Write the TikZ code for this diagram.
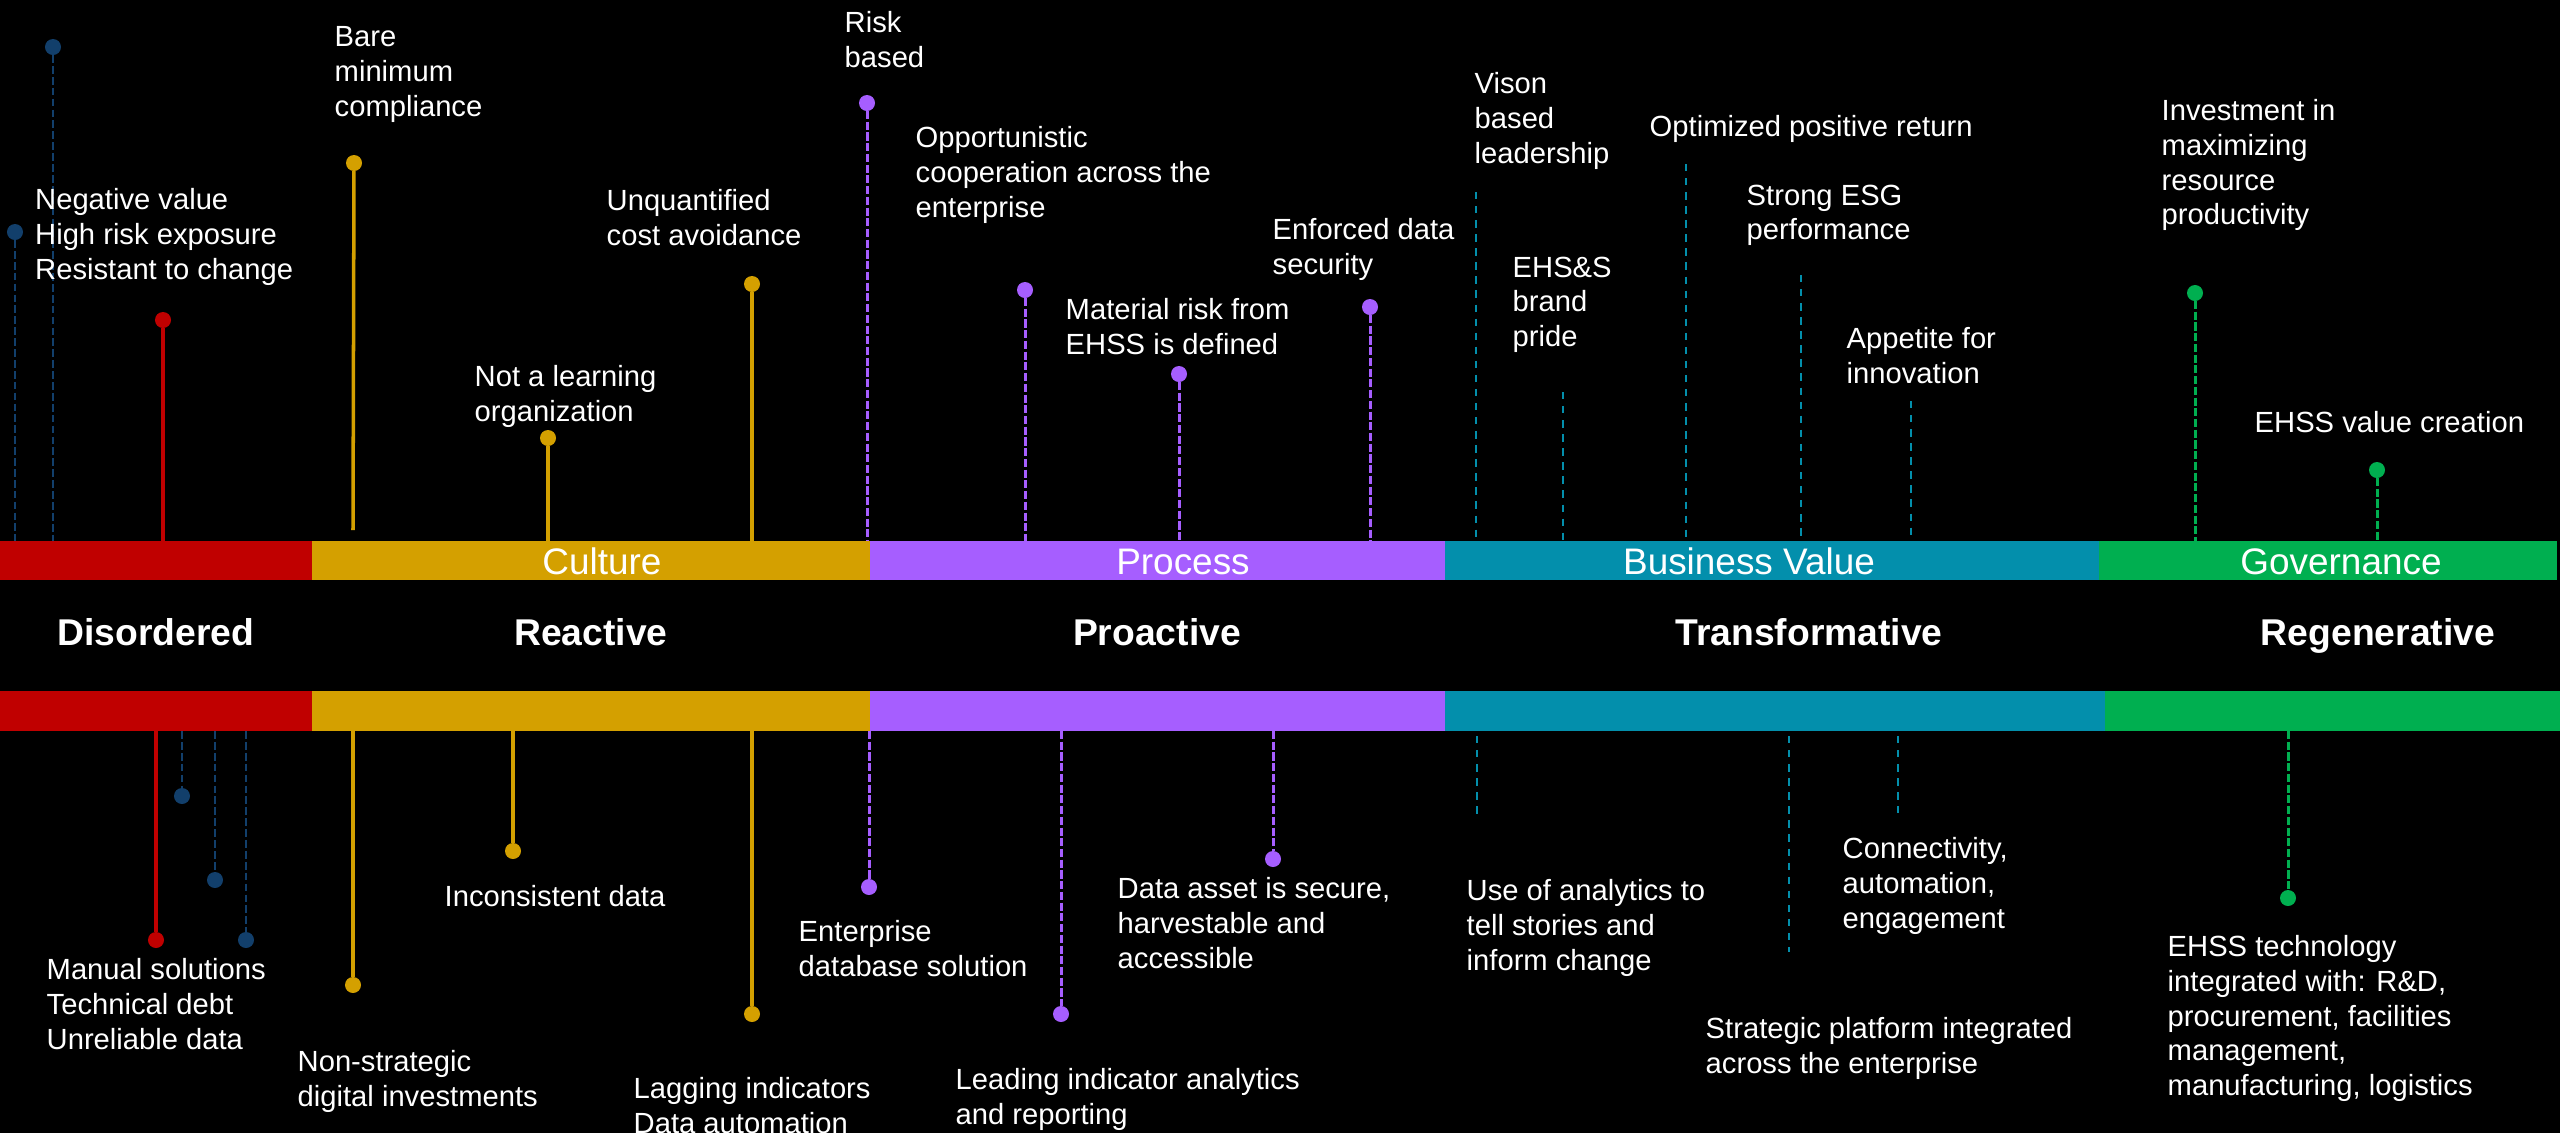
\documentclass[tikz,border=0pt]{standalone}
\usepackage{fontspec}
\setmainfont{Liberation Sans}
\usetikzlibrary{fit}
\definecolor{cred}{HTML}{C00000}
\definecolor{cgold}{HTML}{D4A000}
\definecolor{cpurple}{HTML}{A65EFF}
\definecolor{cteal}{HTML}{038FAC}
\definecolor{cgreen}{HTML}{00AF50}
\definecolor{cnavy}{HTML}{123F6B}
\begin{document}
\begin{tikzpicture}[x=0.01cm,y=-0.01cm,
 bar/.style={inner sep=0pt, outer sep=0pt, draw=none},
 dot/.style={circle, inner sep=0pt, minimum size=0.16cm, outer sep=0pt},
 solidpin/.style={line width=1pt},
 dashpin/.style={line width=0.85pt, dash pattern=on 2.3pt off 0.75pt},
 navypin/.style={line width=0.65pt, dash pattern=on 2.2pt off 0.9pt, cnavy},
 tealpin/.style={line width=0.6pt, dash pattern=on 2.1pt off 1.9pt, cteal},
 lbl/.style={text=white, anchor=north west, inner sep=0pt, align=left, font=\fontsize{8.3}{9.85}\selectfont},
 barlbl/.style={text=white, inner sep=0pt, anchor=base, font=\fontsize{10.5}{12}\selectfont},
 stage/.style={text=white, inner sep=0pt, anchor=base, font=\bfseries\fontsize{10.6}{12}\selectfont}]
\useasboundingbox (0,0) rectangle (2560,1133);
\fill[black] (0,0) rectangle (2560,1133);

% ---------- bars ----------
\node[bar, fill=cred,    fit={(0,541) (312,580)}]     (bt1) {};
\node[bar, fill=cgold,   fit={(312,541) (870,580)}]   (bt2) {};
\node[bar, fill=cpurple, fit={(870,541) (1445,580)}]  (bt3) {};
\node[bar, fill=cteal,   fit={(1445,541) (2099,580)}] (bt4) {};
\node[bar, fill=cgreen,  fit={(2099,541) (2557,580)}] (bt5) {};

\node[bar, fill=cred,    fit={(0,691) (312,731)}]     (bb1) {};
\node[bar, fill=cgold,   fit={(312,691) (870,731)}]   (bb2) {};
\node[bar, fill=cpurple, fit={(870,691) (1445,731)}]  (bb3) {};
\node[bar, fill=cteal,   fit={(1445,691) (2105,731)}] (bb4) {};
\node[bar, fill=cgreen,  fit={(2105,691) (2560,731)}] (bb5) {};

\node[barlbl] (lc) at (602,574) {Culture};
\node[barlbl] (lp) at (1183,574) {Process};
\node[barlbl] (lb) at (1749,574) {Business Value};
\node[barlbl] (lg) at (2341,574) {Governance};

\node[stage] (s1) at (156,645) {Disordered};
\node[stage] (s2) at (591,645) {Reactive};
\node[stage] (s3) at (1157,645) {Proactive};
\node[stage] (s4) at (1809,645) {Transformative};
\node[stage] (s5) at (2378,645) {Regenerative};

% ---------- top pins ----------
\node[dot, fill=cnavy]   (tn1) at (53,47) {};
\node[dot, fill=cnavy]   (tn2) at (15,232) {};
\node[dot, fill=cred]    (tr1) at (163,320) {};
\node[dot, fill=cgold]   (tg1) at (354,163) {};
\node[dot, fill=cgold]   (tg2) at (548,438) {};
\node[dot, fill=cgold]   (tg3) at (752,284) {};
\node[dot, fill=cpurple] (tp1) at (867,103) {};
\node[dot, fill=cpurple] (tp2) at (1025,290) {};
\node[dot, fill=cpurple] (tp3) at (1179,374) {};
\node[dot, fill=cpurple] (tp4) at (1370,307) {};
\coordinate (tt1) at (1476,192);
\coordinate (tt2) at (1563,392);
\coordinate (tt3) at (1686,164);
\coordinate (tt4) at (1801,275);
\coordinate (tt5) at (1911,401);
\node[dot, fill=cgreen]  (te1) at (2195,293) {};
\node[dot, fill=cgreen]  (te2) at (2377,470) {};
\coordinate (tg1e) at (353,530);

\draw[navypin] (tn1) -- (tn1 |- bt1.north);
\draw[navypin] (tn2) -- (tn2 |- bt1.north);
\draw[solidpin, cred] (tr1) -- (tr1 |- bt1.north);
\draw[solidpin, cgold] (tg1) -- (tg1e);
\draw[solidpin, cgold] (tg2) -- (tg2 |- bt2.north);
\draw[solidpin, cgold] (tg3) -- (tg3 |- bt2.north);
\draw[dashpin, cpurple] (tp1) -- (tp1 |- bt3.north);
\draw[dashpin, cpurple] (tp2) -- (tp2 |- bt3.north);
\draw[dashpin, cpurple] (tp3) -- (tp3 |- bt3.north);
\draw[dashpin, cpurple] (tp4) -- (tp4 |- bt3.north);
\draw[tealpin] (tt1) -- (tt1 |- bt4.north);
\draw[tealpin] (tt2) -- (tt2 |- bt4.north);
\draw[tealpin] (tt3) -- (tt3 |- bt4.north);
\draw[tealpin] (tt4) -- (tt4 |- bt4.north);
\draw[tealpin] (tt5) -- (tt5 |- bt4.north);
\draw[dashpin, cgreen] (te1) -- (te1 |- bt5.north);
\draw[dashpin, cgreen] (te2) -- (te2 |- bt5.north);

% ---------- bottom pins ----------
\node[dot, fill=cred]    (br1) at (156,940) {};
\node[dot, fill=cnavy]   (bn1) at (182,796) {};
\node[dot, fill=cnavy]   (bn2) at (215,880) {};
\node[dot, fill=cnavy]   (bn3) at (246,940) {};
\node[dot, fill=cgold]   (bg1) at (353,985) {};
\node[dot, fill=cgold]   (bg2) at (513,851) {};
\node[dot, fill=cgold]   (bg3) at (752,1014) {};
\node[dot, fill=cpurple] (bp1) at (869,887) {};
\node[dot, fill=cpurple] (bp2) at (1061,1014) {};
\node[dot, fill=cpurple] (bp3) at (1273,859) {};
\coordinate (bt1a) at (1477,736); \coordinate (bt1b) at (1477,814);
\coordinate (bt2a) at (1789,736); \coordinate (bt2b) at (1789,952);
\coordinate (bt3a) at (1898,736); \coordinate (bt3b) at (1898,813);
\node[dot, fill=cgreen]  (be1) at (2288,898) {};

\draw[solidpin, cred] (br1 |- bb1.south) -- (br1);
\draw[navypin] (bn1 |- bb1.south) -- (bn1);
\draw[navypin] (bn2 |- bb1.south) -- (bn2);
\draw[navypin] (bn3 |- bb1.south) -- (bn3);
\draw[solidpin, cgold] (bg1 |- bb2.south) -- (bg1);
\draw[solidpin, cgold] (bg2 |- bb2.south) -- (bg2);
\draw[solidpin, cgold] (bg3 |- bb2.south) -- (bg3);
\draw[dashpin, cpurple] (bp1 |- bb3.south) -- (bp1);
\draw[dashpin, cpurple] (bp2 |- bb3.south) -- (bp2);
\draw[dashpin, cpurple] (bp3 |- bb3.south) -- (bp3);
\draw[tealpin] (bt1a) -- (bt1b);
\draw[tealpin] (bt2a) -- (bt2b);
\draw[tealpin] (bt3a) -- (bt3b);
\draw[dashpin, cgreen] (be1 |- bb5.south) -- (be1);

% ---------- top labels ----------
\node[lbl] (l01) at (34.5,188) {Negative value\\High risk exposure\\Resistant to change};
\node[lbl] (l02) at (334,26) {Bare\\minimum\\compliance};
\node[lbl] (l03) at (606,189) {Unquantified\\cost avoidance};
\node[lbl] (l04) at (474,365) {Not a learning\\organization};
\node[lbl] (l05) at (844,11) {Risk\\based};
\node[lbl] (l06) at (915,126) {Opportunistic\\cooperation across the\\enterprise};
\node[lbl] (l07) at (1065,298) {Material risk from\\EHSS is defined};
\node[lbl] (l08) at (1272,218) {Enforced data\\security};
\node[lbl] (l09) at (1474,72) {Vison\\based\\leadership};
\node[lbl] (l10) at (1512,256) {EHS\&S\\brand\\pride};
\node[lbl] (l11) at (1649,115) {Optimized positive return};
\node[lbl] (l12) at (1746,184) {Strong ESG\\performance};
\node[lbl] (l13) at (1846,327) {Appetite for\\innovation};
\node[lbl] (l14) at (2161,99) {Investment in\\maximizing\\resource\\productivity};
\node[lbl] (l15) at (2254,411) {EHSS value creation};

% ---------- bottom labels ----------
\node[lbl] (m01) at (46,958) {Manual solutions\\Technical debt\\Unreliable data};
\node[lbl] (m02) at (297,1050) {Non-strategic\\digital investments};
\node[lbl] (m03) at (444,885) {Inconsistent data};
\node[lbl] (m04) at (633,1077) {Lagging indicators\\Data automation};
\node[lbl] (m05) at (798,920) {Enterprise\\database solution};
\node[lbl] (m06) at (955,1068) {Leading indicator analytics\\and reporting};
\node[lbl] (m07) at (1117,877) {Data asset is secure,\\harvestable and\\accessible};
\node[lbl] (m08) at (1466,879) {Use of analytics to\\tell stories and\\inform change};
\node[lbl] (m09) at (1842,837) {Connectivity,\\automation,\\engagement};
\node[lbl] (m10) at (1705,1017) {Strategic platform integrated\\across the enterprise};
\node[lbl] (m11) at (2167,935) {EHSS technology\\integrated with: R\&D,\\procurement, facilities\\management,\\manufacturing, logistics};
\end{tikzpicture}
\end{document}
